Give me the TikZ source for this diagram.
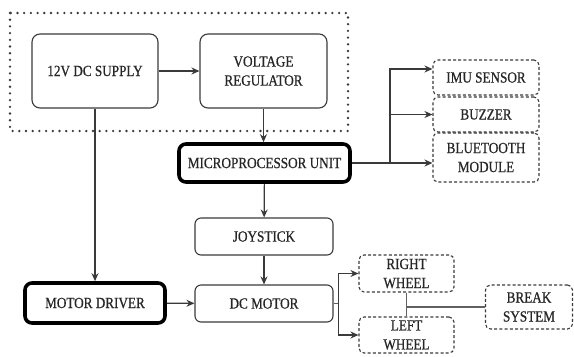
\documentclass[tikz,border=0pt]{standalone}
\usepackage{fontspec}
\setmainfont{Liberation Serif}[FakeStretch=0.85,FakeBold=0.7]
\usetikzlibrary{arrows.meta,positioning}
\definecolor{lineGray}{HTML}{3A3A3A}
\definecolor{textGray}{HTML}{262626}

\begin{document}
\begin{tikzpicture}[x=1bp,y=-1bp,
  font=\rmfamily\fontsize{15.5bp}{19bp}\selectfont,
  box/.style={draw=lineGray,line width=1.1bp,rounded corners=8bp,align=center,
    inner sep=0pt,text=textGray},
  thickbox/.style={box,draw=black,line width=3.6bp,rounded corners=7bp},
  dashbox/.style={box,dash pattern=on 3bp off 2.2bp,rounded corners=5bp},
  dotframe/.style={lineGray,line width=2.6bp,line cap=round,dash pattern=on 0pt off 6.7bp},
  arr/.style={draw=lineGray,line width=1.2bp,-{Stealth[length=8bp,width=7bp]}},
  wire/.style={draw=lineGray!80,line width=1.2bp}]
  \useasboundingbox (0,0) rectangle (574,356);
  % power section
  \draw[dotframe] (10,13) rectangle (348,131);
  \node[box,minimum width=126bp,minimum height=74bp] (supply) at (95,71) {12V DC SUPPLY};
  \node[box,minimum width=127bp,minimum height=74bp] (reg) at (263.5,71) {VOLTAGE\\REGULATOR};
  % control
  \node[thickbox,minimum width=171bp,minimum height=38bp] (mcu) at (264.5,163) {MICROPROCESSOR UNIT};
  \node[dashbox,minimum width=106bp,minimum height=35bp] (imu) at (486,77.5) {IMU SENSOR};
  \node[dashbox,minimum width=106bp,minimum height=35bp] (buzzer) at (486,114.5) {BUZZER};
  \node[dashbox,minimum width=106bp,minimum height=49bp] (bt) at (486,157.5) {BLUETOOTH\\MODULE};
  \node[box,rounded corners=6bp,minimum width=138bp,minimum height=37bp] (joy) at (264,236.5) {JOYSTICK};
  % drive
  \node[thickbox,minimum width=140bp,minimum height=40bp] (mdrv) at (95,303) {MOTOR DRIVER};
  \node[box,rounded corners=6bp,minimum width=138bp,minimum height=37bp] (dcm) at (264,303.5) {DC MOTOR};
  \node[dashbox,minimum width=95bp,minimum height=37bp] (rwheel) at (406.5,273.5) {RIGHT\\WHEEL};
  \node[dashbox,minimum width=95bp,minimum height=36bp] (lwheel) at (406.5,335) {LEFT\\WHEEL};
  \node[dashbox,minimum width=87bp,minimum height=44bp] (brake) at (529,307) {BREAK\\SYSTEM};
  \coordinate (mcuj) at (390,163);
  \coordinate (imuin) at ([yshift=8.5bp]imu.west);
  \coordinate (dcmj) at ([xshift=5bp]dcm.east);
  % connectors
  \draw[arr] (supply) -- (reg);
  \draw[arr] (reg) -- (reg |- mcu.north);
  \draw[arr] (supply.south) -- (supply.south |- mdrv.north);
  \draw[arr] (mcu) -- (joy);
  \draw[arr] (joy) -- (dcm);
  \draw[arr] (mdrv) -- (dcm);
  \draw[arr] (mcu.east) -- (bt.west |- mcu.east);
  \draw[arr] (mcuj) |- (imuin);
  \draw[arr] (mcuj |- buzzer.west) -- (buzzer.west);
  \draw[wire] (dcm.east) -- (dcmj);
  \draw[arr] (dcmj) |- (rwheel.west);
  \draw[arr] (dcmj) |- (lwheel.west);
  \draw[wire] (rwheel) -- (lwheel);
  \draw[wire] (rwheel.south |- brake.west) -- (brake.west);
\end{tikzpicture}
\end{document}
